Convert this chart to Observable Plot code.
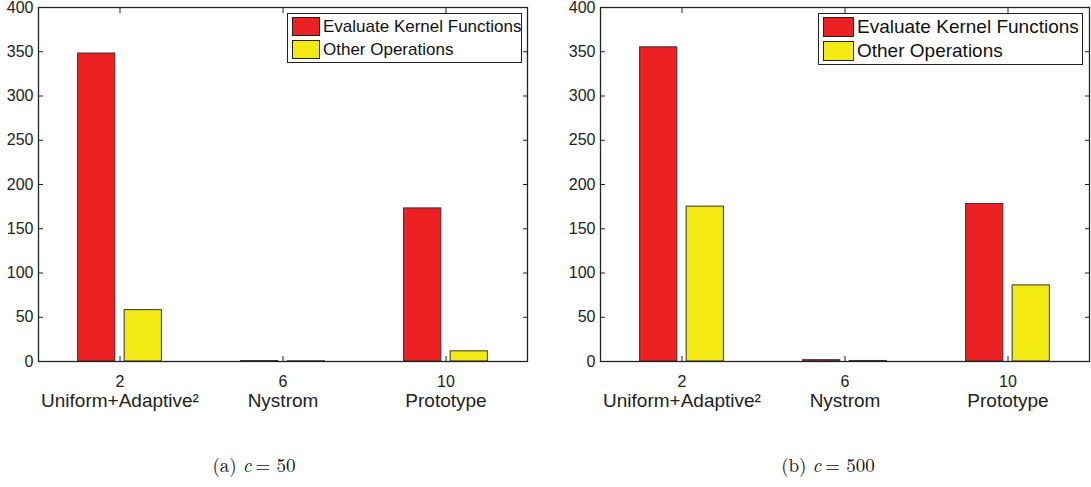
<!DOCTYPE html>
<html><head><meta charset="utf-8">
<script src="https://cdn.jsdelivr.net/npm/d3@7"></script>
<script src="https://cdn.jsdelivr.net/npm/@observablehq/plot@0.6"></script>
<style>
body{margin:0;background:#fff;}
#root{position:relative;width:1091px;height:487px;overflow:hidden;font-family:"Liberation Sans",Arial,sans-serif;background:#fff;}
.panel{position:absolute;top:-8px;}
.panel svg{overflow:visible;}
.legend{position:absolute;top:13px;border:1px solid #222;background:#fff;color:#111;box-sizing:border-box;}
.row{position:absolute;left:4px;display:flex;align-items:center;white-space:nowrap;}
.sw{border:1px solid #222;margin-right:3px;box-sizing:border-box;}
.cap{position:absolute;top:451px;font-family:"Latin Modern Roman","DejaVu Serif","Liberation Serif",serif;font-size:19px;transform:translateX(-50%);white-space:nowrap;color:#111;}
.cap i{margin:0 4px 0 6px;}
</style></head>
<body><div id="root"></div>
<script>
// ---- data ----
const positions = [2, 6, 10];
const methods = ["Uniform+Adaptive\u00B2", "Nystrom", "Prototype"];
const seriesNames = ["Evaluate Kernel Functions", "Other Operations"];
const seriesColors = ["#ED2024", "#F2EA12"];
const kernelC50 = [348, 0.5, 173];
const otherC50 = [58, 0.3, 11.5];
const kernelC500 = [355, 1.5, 178];
const otherC500 = [175, 0.6, 86];
const yTicks = [0, 50, 100, 150, 200, 250, 300, 350, 400];
const cValues = ["50", "500"];
const panelTags = ["(a)", "(b)"];

// ---- layout ----
const root = document.getElementById("root");
const groupOffset = 0.571, halfBar = 0.457;

function panel(kernel, other, opts) {
  const rows = [];
  [kernel, other].forEach((vals, si) => vals.forEach((v, i) => rows.push({s: si, pos: positions[i], v})));
  const off = s => (s === 0 ? -groupOffset : groupOffset);
  return Plot.plot({
    width: opts.width, height: 428,
    marginLeft: opts.ml, marginRight: opts.mr, marginTop: 15, marginBottom: 59,
    style: {fontFamily: '"Liberation Sans", Arial, sans-serif', background: "transparent", color: "#222"},
    x: {domain: [0, 12]},
    y: {domain: [0, 400]},
    marks: [
      Plot.rectY(rows, {x1: d => d.pos + off(d.s) - halfBar, x2: d => d.pos + off(d.s) + halfBar, y1: 0, y2: d => d.v,
        fill: d => seriesColors[d.s], stroke: "#333", strokeWidth: 1}),
      Plot.axisY({anchor: "left", ticks: yTicks, tickSize: -5, tickPadding: 10, fontSize: 16, label: null, stroke: "#222"}),
      Plot.axisY({anchor: "right", ticks: yTicks, tickSize: -5, tickFormat: () => "", label: null, stroke: "#222"}),
      Plot.axisX({anchor: "bottom", ticks: positions, tickSize: -5, tickPadding: 19, fontSize: 16, label: null, stroke: "#222"}),
      Plot.axisX({anchor: "top", ticks: positions, tickSize: -5, tickFormat: () => "", label: null, stroke: "#222"}),
      Plot.text(methods, {x: (d, i) => positions[i], text: d => d, frameAnchor: "bottom", dy: 45, fontSize: 19, fill: "#222"}),
      Plot.frame({stroke: "#222", strokeWidth: 1.3})
    ]
  });
}

const panels = [
  {kernel: kernelC50, other: otherC50, left: 0, width: 545, ml: 38, mr: 18,
   legend: {left: 287, width: 235, height: 50, font: 17, sw: [28, 19], gap: 23}, capX: 254},
  {kernel: kernelC500, other: otherC500, left: 545, width: 546, ml: 55, mr: 2,
   legend: {left: 818, width: 265, height: 52, font: 19, sw: [31, 20], gap: 24}, capX: 828}
];

panels.forEach((p, k) => {
  const wrap = document.createElement("div");
  wrap.className = "panel";
  wrap.style.left = p.left + "px";
  wrap.appendChild(panel(p.kernel, p.other, p));
  root.appendChild(wrap);

  const L = p.legend;
  const lg = document.createElement("div");
  lg.className = "legend";
  lg.style.left = L.left + "px";
  lg.style.width = L.width + "px";
  lg.style.height = L.height + "px";
  lg.style.fontSize = L.font + "px";
  seriesNames.forEach((name, i) => {
    const r = document.createElement("div");
    r.className = "row";
    r.style.top = (3 + i * L.gap) + "px";
    r.style.height = L.sw[1] + "px";
    const sw = document.createElement("div");
    sw.className = "sw";
    sw.style.width = L.sw[0] + "px";
    sw.style.height = L.sw[1] + "px";
    sw.style.background = seriesColors[i];
    r.appendChild(sw);
    r.appendChild(document.createTextNode(name));
    lg.appendChild(r);
  });
  root.appendChild(lg);

  const cap = document.createElement("div");
  cap.className = "cap";
  cap.style.left = p.capX + "px";
  cap.innerHTML = panelTags[k] + "<i>c</i>= " + cValues[k];
  root.appendChild(cap);
});
</script>
</body></html>
